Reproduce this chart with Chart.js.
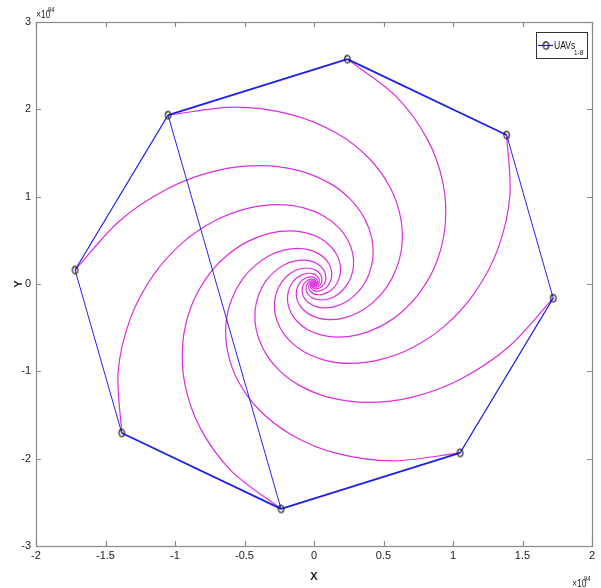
<!DOCTYPE html>
<html>
<head>
<meta charset="utf-8">
<script src="https://cdn.jsdelivr.net/npm/chart.js@4.4.1/dist/chart.umd.min.js"></script>
<style>
  html,body{margin:0;padding:0;background:#fff;}
  #c{display:block;}
</style>
</head>
<body>
<canvas id="c" width="601" height="588"></canvas>
<script>
// ---- data (units of 1e94) ----
const xTicks = [-2, -1.5, -1, -0.5, 0, 0.5, 1, 1.5, 2];
const yTicks = [-3, -2, -1, 0, 1, 2, 3];
const uavX = [0.24, 1.386, 1.721, 1.051, -0.237, -1.383, -1.719, -1.050];
const uavY = [2.575, 1.706, -0.162, -1.934, -2.575, -1.706, 0.160, 1.934];
const pathOrder = [8, 1, 2, 3, 4, 5, 6, 7, 8, 5];
const legendLabel = 'UAVs';
const legendSub = '1-8';

const spiral1 = [[0.240,2.575],[0.592,2.145],[0.818,1.650],[0.929,1.147],[0.944,0.675],[0.885,0.264],[0.773,-0.071],[0.629,-0.323],[0.471,-0.491],[0.315,-0.582],[0.172,-0.609],[0.049,-0.583],[-0.048,-0.520],[-0.119,-0.432],[-0.165,-0.332],[-0.187,-0.231],[-0.190,-0.136],[-0.178,-0.053],[-0.156,0.014],[-0.127,0.065],[-0.095,0.099],[-0.064,0.117],[-0.035,0.123],[-0.010,0.118],[0.010,0.105],[0.033,0.067],[0.038,0.027],[0.031,-0.003],[0.019,-0.020],[0.007,-0.025],[-0.002,-0.021],[0,0]];
const spiral2 = [[1.386,1.706],[1.409,1.008],[1.321,0.394],[1.153,-0.107],[0.939,-0.482],[0.703,-0.732],[0.470,-0.869],[0.257,-0.909],[0.074,-0.871],[-0.072,-0.776],[-0.178,-0.645],[-0.246,-0.496],[-0.279,-0.345],[-0.284,-0.203],[-0.266,-0.079],[-0.232,0.022],[-0.189,0.097],[-0.142,0.148],[-0.095,0.175],[-0.052,0.183],[-0.015,0.175],[0.015,0.156],[0.036,0.130],[0.050,0.100],[0.056,0.070],[0.054,0.016],[0.038,-0.020],[0.019,-0.035],[0.003,-0.035],[-0.007,-0.026],[-0.011,-0.014],[0,0]];
const spiral3 = [[1.721,-0.162],[1.401,-0.719],[1.050,-1.093],[0.702,-1.298],[0.383,-1.356],[0.110,-1.299],[-0.108,-1.158],[-0.266,-0.963],[-0.367,-0.740],[-0.417,-0.515],[-0.424,-0.303],[-0.397,-0.118],[-0.347,0.032],[-0.282,0.145],[-0.212,0.220],[-0.141,0.261],[-0.077,0.273],[-0.022,0.262],[0.022,0.233],[0.054,0.194],[0.074,0.149],[0.084,0.104],[0.085,0.061],[0.080,0.024],[0.070,-0.007],[0.043,-0.044],[0.016,-0.055],[-0.004,-0.047],[-0.015,-0.030],[-0.017,-0.012],[-0.014,0.001],[0,0]];
const spiral4 = [[1.051,-1.934],[0.572,-2.025],[0.164,-1.940],[-0.161,-1.728],[-0.397,-1.437],[-0.548,-1.105],[-0.622,-0.768],[-0.633,-0.453],[-0.593,-0.177],[-0.518,0.048],[-0.421,0.216],[-0.316,0.329],[-0.211,0.390],[-0.115,0.408],[-0.033,0.391],[0.032,0.348],[0.080,0.289],[0.110,0.223],[0.125,0.155],[0.127,0.091],[0.119,0.036],[0.104,-0.010],[0.085,-0.044],[0.064,-0.066],[0.043,-0.079],[0.007,-0.079],[-0.016,-0.058],[-0.025,-0.031],[-0.024,-0.007],[-0.017,0.009],[-0.009,0.016],[0,0]];
const spiral5 = [[-0.237,-2.575],[-0.592,-2.145],[-0.818,-1.650],[-0.929,-1.147],[-0.944,-0.675],[-0.885,-0.264],[-0.773,0.071],[-0.629,0.323],[-0.471,0.491],[-0.315,0.582],[-0.172,0.609],[-0.049,0.583],[0.048,0.520],[0.119,0.432],[0.165,0.332],[0.187,0.231],[0.190,0.136],[0.178,0.053],[0.156,-0.014],[0.127,-0.065],[0.095,-0.099],[0.064,-0.117],[0.035,-0.123],[0.010,-0.118],[-0.010,-0.105],[-0.033,-0.067],[-0.038,-0.027],[-0.031,0.003],[-0.019,0.020],[-0.007,0.025],[0.002,0.021],[0,0]];
const spiral6 = [[-1.383,-1.706],[-1.409,-1.008],[-1.321,-0.394],[-1.153,0.107],[-0.939,0.482],[-0.703,0.732],[-0.470,0.869],[-0.257,0.909],[-0.074,0.871],[0.072,0.776],[0.178,0.645],[0.246,0.496],[0.279,0.345],[0.284,0.203],[0.266,0.079],[0.232,-0.022],[0.189,-0.097],[0.142,-0.148],[0.095,-0.175],[0.052,-0.183],[0.015,-0.175],[-0.015,-0.156],[-0.036,-0.130],[-0.050,-0.100],[-0.056,-0.070],[-0.054,-0.016],[-0.038,0.020],[-0.019,0.035],[-0.003,0.035],[0.007,0.026],[0.011,0.014],[0,0]];
const spiral7 = [[-1.719,0.160],[-1.401,0.719],[-1.050,1.093],[-0.702,1.298],[-0.383,1.356],[-0.110,1.299],[0.108,1.158],[0.266,0.963],[0.367,0.740],[0.417,0.515],[0.424,0.303],[0.397,0.118],[0.347,-0.032],[0.282,-0.145],[0.212,-0.220],[0.141,-0.261],[0.077,-0.273],[0.022,-0.262],[-0.022,-0.233],[-0.054,-0.194],[-0.074,-0.149],[-0.084,-0.104],[-0.085,-0.061],[-0.080,-0.024],[-0.070,0.007],[-0.043,0.044],[-0.016,0.055],[0.004,0.047],[0.015,0.030],[0.017,0.012],[0.014,-0.001],[0,0]];
const spiral8 = [[-1.050,1.934],[-0.572,2.025],[-0.164,1.940],[0.161,1.728],[0.397,1.437],[0.548,1.105],[0.622,0.768],[0.633,0.453],[0.593,0.177],[0.518,-0.048],[0.421,-0.216],[0.316,-0.329],[0.211,-0.390],[0.115,-0.408],[0.033,-0.391],[-0.032,-0.348],[-0.080,-0.289],[-0.110,-0.223],[-0.125,-0.155],[-0.127,-0.091],[-0.119,-0.036],[-0.104,0.010],[-0.085,0.044],[-0.064,0.066],[-0.043,0.079],[-0.007,0.079],[0.016,0.058],[0.025,0.031],[0.024,0.007],[0.017,-0.009],[0.009,-0.016],[0,0]];
const spirals = [spiral1, spiral2, spiral3, spiral4, spiral5, spiral6, spiral7, spiral8];

// ---- styles ----
const FONT = '"Liberation Sans Narrow", "Liberation Sans", Arial, sans-serif';
const BLUE = 'rgb(30,30,235)';
const MAGENTA = 'rgb(222,45,222)';

function slopeWidth(ctx, thin, thick) {
  const p0 = ctx.p0, p1 = ctx.p1;
  const dx = Math.abs(p1.x - p0.x), dy = Math.abs(p1.y - p0.y);
  const len = Math.hypot(dx, dy) || 1;
  const h = dx / len;
  return thin + (thick - thin) * h * h;
}

// elliptical 'o' marker
const marker = document.createElement('canvas');
marker.width = 9; marker.height = 11;
(function () {
  const m = marker.getContext('2d');
  m.strokeStyle = '#1a1a1a'; m.lineWidth = 1.2;
  m.beginPath(); m.ellipse(4.5, 5.5, 2.7, 3.7, 0, 0, Math.PI * 2); m.stroke();
})();

const pathData = pathOrder.map(i => ({x: uavX[i - 1], y: uavY[i - 1]}));
const markerData = uavX.map((x, i) => ({x, y: uavY[i]}));

const datasets = [
  {
    label: 'markers', data: markerData, showLine: false,
    pointRadius: 4, pointStyle: marker
  },
  {
    label: legendLabel, data: pathData, showLine: true, borderColor: BLUE,
    borderWidth: 1, pointRadius: 0, tension: 0,
    segment: { borderWidth: ctx => slopeWidth(ctx, 0.9, 1.9) }
  }
];
spirals.forEach((s, k) => {
  datasets.push({
    label: 'spiral' + (k + 1),
    data: s.map(p => ({x: p[0], y: p[1]})),
    showLine: true, borderColor: MAGENTA, borderWidth: 1.2,
    pointRadius: 0, tension: 0.32, cubicInterpolationMode: 'default', fill: false
  });
});

const frame = {
  id: 'frame',
  afterDatasetsDraw(chart) {
    const {ctx, chartArea: a, scales: {x, y}} = chart;
    ctx.save();
    ctx.strokeStyle = '#8a8a8a';
    ctx.lineWidth = 1.2;
    ctx.strokeRect(a.left + 0.5, a.top + 0.5, a.right - a.left, a.bottom - a.top);
    ctx.beginPath();
    xTicks.forEach(v => {
      const px = Math.round(x.getPixelForValue(v)) + 0.5;
      ctx.moveTo(px, a.bottom); ctx.lineTo(px, a.bottom - 5);
      ctx.moveTo(px, a.top); ctx.lineTo(px, a.top + 5);
    });
    yTicks.forEach(v => {
      const py = Math.round(y.getPixelForValue(v)) + 0.5;
      ctx.moveTo(a.left, py); ctx.lineTo(a.left + 5, py);
      ctx.moveTo(a.right, py); ctx.lineTo(a.right - 5, py);
    });
    ctx.stroke();
    ctx.restore();
  },
  afterDraw(chart) {
    const {ctx, chartArea: a} = chart;
    const txt = (s, x, y, size, sx) => {
      ctx.save();
      ctx.translate(x, y); ctx.scale(sx, 1);
      ctx.font = size + 'px ' + FONT;
      ctx.fillText(s, 0, 0);
      ctx.restore();
    };
    ctx.save();
    ctx.fillStyle = '#222';
    ctx.textBaseline = 'alphabetic';
    ctx.textAlign = 'left';
    // exponent labels
    txt('×10', a.left, 18, 10, 0.85);
    txt('94', a.left + 12, 12, 7, 0.85);
    txt('×10', 572, 587, 10, 0.85);
    txt('94', 584, 581, 7, 0.85);
    // legend
    const lx = 536, ly = 32, lw = 51, lh = 26;
    ctx.fillStyle = '#fff';
    ctx.fillRect(lx, ly, lw, lh);
    ctx.strokeStyle = '#333';
    ctx.lineWidth = 1;
    ctx.strokeRect(lx + 0.5, ly + 0.5, lw, lh);
    ctx.strokeStyle = BLUE;
    ctx.lineWidth = 1.2;
    ctx.beginPath(); ctx.moveTo(538, 45.5); ctx.lineTo(553, 45.5); ctx.stroke();
    ctx.drawImage(marker, 546 - 4.5, 45.5 - 5.5);
    ctx.fillStyle = '#111';
    txt(legendLabel, 554, 49, 11, 0.78);
    txt(legendSub, 574, 55, 7.5, 0.85);
    ctx.restore();
  }
};

new Chart(document.getElementById('c'), {
  type: 'line',
  data: { datasets },
  plugins: [frame],
  options: {
    responsive: false,
    animation: false,
    layout: { padding: { top: 22, right: 9, left: 0, bottom: 0 } },
    plugins: { legend: { display: false }, tooltip: { enabled: false } },
    scales: {
      x: {
        type: 'linear', min: -2, max: 2,
        afterFit(s) { s.height = 42; },
        afterBuildTicks(s) { s.ticks = xTicks.map(v => ({value: v})); },
        grid: { display: false, drawTicks: false },
        border: { display: false },
        ticks: { autoSkip: false, maxRotation: 0, padding: 3, color: '#222',
                 font: { family: FONT, size: 11 }, callback: v => String(v) },
        title: { display: true, text: 'X', color: '#222',
                 font: { family: FONT, size: 11, weight: 'bold' }, padding: { top: 0, bottom: 4 } }
      },
      y: {
        type: 'linear', min: -3, max: 3,
        afterFit(s) { s.width = 36; },
        afterBuildTicks(s) { s.ticks = yTicks.map(v => ({value: v})); },
        grid: { display: false, drawTicks: false },
        border: { display: false },
        ticks: { autoSkip: false, padding: 5, color: '#222',
                 font: { family: FONT, size: 11 }, callback: v => String(v) },
        title: { display: true, text: 'Y', color: '#222',
                 font: { family: FONT, size: 11, weight: 'bold' }, padding: { top: 12, bottom: 0 } }
      }
    }
  }
});
</script>
</body>
</html>
